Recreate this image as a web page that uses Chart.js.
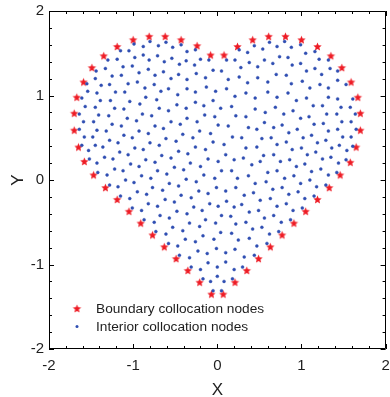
<!DOCTYPE html>
<html>
<head>
<meta charset="utf-8">
<script src="https://cdn.jsdelivr.net/npm/chart.js@4.4.1/dist/chart.umd.min.js"></script>
<style>
  html, body { margin: 0; padding: 0; background: #fff; }
  #wrap { width: 390px; height: 397px; }
</style>
</head>
<body>
<div id="wrap"><canvas id="nodeChart" width="390" height="397"></canvas></div>
<script>
// Tick labels on both axes
const axisTicks = [-2, -1, 0, 1, 2];

// Boundary collocation nodes [x, y]
const boundaryNodes = [
  [-0.07,-1.35],[-0.21,-1.21],[-0.35,-1.07],[-0.49,-0.93],[-0.63,-0.79],[-0.77,-0.65],[-0.91,-0.51],
  [-1.05,-0.37],[-1.19,-0.23],[-1.33,-0.09],[-1.47,0.06],[-1.58,0.22],[-1.65,0.39],[-1.70,0.59],
  [-1.70,0.79],[-1.67,0.98],[-1.59,1.16],[-1.49,1.33],[-1.35,1.47],[-1.19,1.58],[-1.00,1.66],
  [-0.81,1.70],[-0.62,1.70],[-0.43,1.66],[-0.24,1.59],[-0.08,1.48],
  [0.08,1.48],[0.24,1.58],[0.42,1.66],[0.61,1.70],[0.81,1.70],[1.00,1.66],[1.19,1.58],
  [1.35,1.47],[1.48,1.33],[1.59,1.16],[1.67,0.98],[1.70,0.79],[1.70,0.59],[1.65,0.39],
  [1.58,0.21],[1.46,0.06],[1.33,-0.09],[1.19,-0.23],[1.05,-0.37],[0.91,-0.51],[0.77,-0.65],
  [0.63,-0.79],[0.49,-0.93],[0.35,-1.07],[0.21,-1.21],[0.07,-1.35]
];

// Interior collocation nodes [x, y]
const interiorNodes = [
  // upper left lobe
  [-0.99,1.61],[-0.80,1.64],[-0.61,1.63],[-0.88,1.58],[-0.70,1.59],[-1.15,1.53],[-1.05,1.53],
  [-0.88,1.48],[-0.71,1.47],[-1.30,1.42],[-1.19,1.43],[-0.98,1.45],[-0.81,1.42],[-0.63,1.40],
  [-1.44,1.29],[-1.33,1.32],[-1.12,1.34],[-1.01,1.35],[-0.82,1.31],[-0.93,1.27],[-0.64,1.28],
  [-1.45,1.20],[-1.25,1.23],[-1.14,1.24],[-0.74,1.24],[-1.55,1.14],[-1.38,1.12],[-1.28,1.13],
  [-1.06,1.14],[-0.95,1.16],[-0.86,1.09],[-0.75,1.13],[-1.54,1.05],[-1.43,1.03],[-1.21,1.04],
  [-1.10,1.04],[-0.67,1.05],[-0.58,1.08],[-1.61,0.97],[-1.39,0.94],[-1.27,0.94],[-1.04,0.93],
  [-0.85,0.98],[-0.72,0.95],[-0.92,0.90],[-1.57,0.87],[-1.45,0.86],[-1.22,0.85],[-1.11,0.84],
  [-0.69,0.85],[-0.58,0.82],[-1.64,0.78],[-1.41,0.77],[-1.29,0.76],[-0.89,0.78],[-0.78,0.76],
  [-1.07,0.73],
  // upper middle
  [-0.43,1.60],[-0.26,1.54],[-0.53,1.57],[-0.36,1.52],[-0.10,1.42],[-0.20,1.43],[-0.54,1.44],
  [-0.45,1.37],[-0.37,1.41],[0.11,1.42],[0.21,1.42],[-0.27,1.36],[-0.05,1.30],[0.05,1.29],
  [0.28,1.33],[0.38,1.39],[0.48,1.34],[0.56,1.42],[0.54,1.55],[0.36,1.51],[0.26,1.54],
  [0.44,1.59],[0.62,1.63],[-0.55,1.20],[-0.46,1.25],[-0.36,1.19],[-0.25,1.26],[-0.14,1.21],
  [0.13,1.19],[0.26,1.22],[0.36,1.15],[0.48,1.21],[0.60,1.16],[-0.47,1.01],[-0.36,1.08],
  [-0.26,1.04],[-0.13,1.10],[-0.02,1.05],[0.11,1.08],[0.21,0.99],[0.34,1.03],[0.45,0.97],
  [0.60,1.04],[-0.48,0.89],[-0.37,0.85],[-0.26,0.92],[-0.16,0.88],[-0.05,0.94],[0.04,0.85],
  [0.17,0.87],[-0.36,0.73],[-0.15,0.77],[-0.03,0.75],[0.22,0.76],[0.34,0.75],[0.45,0.84],
  [0.57,0.80],
  // upper right lobe
  [0.80,1.64],[0.99,1.60],[0.71,1.58],[0.88,1.57],[1.16,1.52],[1.05,1.50],[0.74,1.46],
  [0.84,1.45],[1.21,1.43],[1.32,1.42],[0.66,1.38],[0.99,1.38],[0.89,1.36],[1.16,1.32],
  [1.06,1.29],[1.34,1.32],[1.43,1.29],[0.70,1.25],[0.82,1.24],[1.24,1.25],[1.01,1.17],
  [0.88,1.14],[1.43,1.18],[1.10,1.09],[1.22,1.13],[1.32,1.09],[1.53,1.13],[0.84,1.03],
  [1.06,0.97],[0.94,0.94],[0.71,0.98],[1.32,0.98],[1.43,0.96],[1.61,0.96],[1.14,0.88],
  [1.25,0.88],[0.69,0.86],[0.90,0.82],[1.47,0.86],[1.58,0.86],[0.79,0.78],[0.99,0.73],
  [1.09,0.75],[1.30,0.78],[1.42,0.78],[1.64,0.78],
  // middle left
  [-1.59,0.69],[-1.47,0.69],[-1.25,0.66],[-1.14,0.64],[-0.96,0.70],[-0.74,0.64],[-0.64,0.61],
  [-1.64,0.60],[-1.43,0.59],[-1.32,0.58],[-1.11,0.53],[-0.93,0.58],[-0.82,0.55],[-1.58,0.51],
  [-1.48,0.51],[-1.28,0.47],[-1.18,0.44],[-1.01,0.50],[-0.80,0.44],[-0.69,0.41],[-0.61,0.49],
  [-1.61,0.41],[-1.45,0.41],[-1.36,0.39],[-1.16,0.33],[-1.06,0.30],[-0.98,0.38],[-0.88,0.36],
  [-1.53,0.35],[-1.34,0.27],[-1.24,0.25],[-1.03,0.19],[-0.93,0.16],[-0.85,0.24],[-0.74,0.21],
  [-0.66,0.29],[-1.52,0.25],[-1.43,0.20],[-1.22,0.13],[-1.12,0.11],[-1.42,0.09],[-1.31,0.06],
  [-0.90,0.05],[-0.79,0.02],[-0.71,0.11],[-0.60,0.07],[-1.28,-0.06],[-1.18,-0.08],[-1.09,0.00],
  [-0.99,-0.03],[-0.77,-0.09],[-0.65,-0.12],[-1.15,-0.19],[-1.04,-0.22],[-0.95,-0.14],[-0.84,-0.17],
  [-0.62,-0.23],[-0.82,-0.28],[-0.71,-0.31],[-1.01,-0.33],
  // centre
  [-0.55,0.69],[-0.44,0.66],[-0.24,0.69],[0.01,0.65],[0.13,0.64],[0.37,0.62],[0.47,0.60],
  [0.56,0.68],[-0.41,0.54],[-0.29,0.50],[-0.21,0.58],[-0.08,0.55],[0.18,0.51],[0.29,0.50],
  [0.53,0.49],[-0.49,0.46],[-0.05,0.45],[0.08,0.42],[0.34,0.38],[0.47,0.39],[-0.46,0.34],
  [-0.35,0.31],[-0.26,0.39],[-0.14,0.36],[0.10,0.30],[0.55,0.29],[-0.55,0.26],[-0.32,0.20],
  [-0.11,0.25],[0.01,0.22],[0.20,0.24],[0.31,0.26],[0.51,0.22],[-0.51,0.15],[-0.40,0.12],
  [-0.20,0.16],[0.05,0.11],[0.17,0.11],[0.41,0.18],[-0.37,0.01],[-0.25,-0.02],[-0.16,0.06],
  [-0.03,0.02],[0.24,0.02],[0.37,0.05],[0.60,0.09],[0.58,-0.02],[-0.57,-0.04],[-0.46,-0.07],
  [-0.22,-0.13],[-0.01,-0.09],[0.10,-0.13],[0.22,-0.09],[0.45,-0.04],[-0.43,-0.18],[-0.31,-0.21],
  [-0.11,-0.16],[0.32,-0.18],[0.43,-0.15],[-0.51,-0.26],[-0.28,-0.32],[-0.09,-0.28],[0.01,-0.31],
  [0.11,-0.25],[0.20,-0.32],[0.29,-0.29],[0.51,-0.24],
  // middle right
  [0.77,0.65],[0.67,0.62],[0.85,0.56],[0.95,0.60],[1.15,0.66],[1.26,0.67],[1.48,0.69],
  [1.59,0.69],[1.65,0.60],[0.64,0.50],[1.02,0.50],[1.12,0.53],[1.32,0.58],[1.43,0.60],
  [1.49,0.51],[1.59,0.51],[0.71,0.42],[0.82,0.45],[1.19,0.44],[1.29,0.47],[1.45,0.41],
  [1.61,0.40],[0.67,0.30],[0.89,0.36],[1.00,0.38],[1.17,0.33],[1.36,0.38],[1.54,0.35],
  [0.75,0.22],[0.86,0.24],[1.07,0.30],[1.25,0.25],[1.35,0.27],[1.44,0.20],[1.53,0.24],
  [0.71,0.11],[0.94,0.16],[1.04,0.19],[1.23,0.13],[1.12,0.10],[1.42,0.09],[0.80,0.02],
  [0.91,0.05],[1.10,0.00],[1.32,0.06],[0.99,-0.04],[0.66,-0.11],[0.77,-0.09],[1.18,-0.08],
  [1.29,-0.06],[0.96,-0.14],[0.85,-0.17],[1.04,-0.22],[1.15,-0.19],[0.63,-0.22],[0.71,-0.31],
  [0.82,-0.28],[1.01,-0.33],
  // lower left
  [-0.90,-0.36],[-0.68,-0.42],[-0.48,-0.37],[-0.36,-0.40],[-0.87,-0.47],[-0.75,-0.50],[-0.57,-0.45],
  [-0.33,-0.51],[-0.73,-0.61],[-0.61,-0.64],[-0.53,-0.56],[-0.41,-0.60],[-0.58,-0.75],[-0.47,-0.78],
  [-0.38,-0.70],[-0.45,-0.89],[-0.33,-0.92],[-0.31,-1.03],
  // lower right and tip
  [-0.18,-0.36],[0.05,-0.42],[0.16,-0.43],[0.38,-0.38],[0.49,-0.36],[0.67,-0.42],[0.90,-0.36],
  [-0.14,-0.47],[-0.02,-0.51],[0.22,-0.52],[0.34,-0.50],[0.56,-0.45],[0.76,-0.50],[0.87,-0.47],
  [-0.21,-0.55],[0.04,-0.62],[0.17,-0.63],[0.42,-0.58],[0.53,-0.56],[0.62,-0.64],[0.73,-0.61],
  [-0.26,-0.73],[-0.17,-0.66],[-0.04,-0.70],[0.25,-0.71],[0.38,-0.69],[0.47,-0.78],[0.59,-0.75],
  [-0.23,-0.84],[-0.01,-0.81],[0.10,-0.86],[0.21,-0.82],[0.32,-0.91],[0.44,-0.89],[-0.12,-0.87],
  [-0.11,-0.98],[0.10,-0.97],[0.20,-1.06],[0.30,-1.03],[-0.20,-1.06],[0.00,-1.03],[-0.17,-1.17],
  [-0.08,-1.20],[0.08,-1.20],[0.18,-1.17],[0.00,-1.14],[-0.05,-1.31],[0.05,-1.31]
];

const FONT = "'Liberation Sans', Arial, sans-serif";
const TEXT = '#1e1e1e';
const STAR_RED = '#ee1c25';
const DOT_BLUE = '#2f4eb2';

// filled five-point star used as the boundary marker
function makeStar(r, color) {
  const size = Math.ceil(r * 2) + 2;
  const c = document.createElement('canvas');
  c.width = size;
  c.height = size;
  const g = c.getContext('2d');
  g.translate(size / 2, size / 2 + r * 0.1);
  g.beginPath();
  for (let i = 0; i < 10; i++) {
    const rad = i % 2 === 0 ? r : r * 0.45;
    const a = -Math.PI / 2 + i * Math.PI / 5;
    g.lineTo(rad * Math.cos(a), rad * Math.sin(a));
  }
  g.closePath();
  g.fillStyle = color;
  g.fill();
  return c;
}
const starMarker = makeStar(4.4, STAR_RED);

// box around the plot with inward major/minor ticks
const frameTicks = {
  id: 'frameTicks',
  afterDatasetsDraw(chart) {
    const { ctx, chartArea: a, scales: { x, y } } = chart;
    const lo = axisTicks[0], hi = axisTicks[axisTicks.length - 1];
    ctx.save();
    ctx.strokeStyle = '#000';
    ctx.lineWidth = 1;
    ctx.beginPath();
    ctx.rect(Math.round(a.left) + 0.5, Math.round(a.top) + 0.5,
             Math.round(a.right - a.left) - 1, Math.round(a.bottom - a.top) - 1);
    for (let k = lo * 5; k <= hi * 5; k++) {
      const v = k / 5;
      const len = k % 5 === 0 ? 5 : 3;
      const px = Math.round(x.getPixelForValue(v)) + 0.5;
      const py = Math.round(y.getPixelForValue(v)) + 0.5;
      ctx.moveTo(px, a.bottom); ctx.lineTo(px, a.bottom - len);
      ctx.moveTo(px, a.top); ctx.lineTo(px, a.top + len);
      ctx.moveTo(a.left, py); ctx.lineTo(a.left + len, py);
      ctx.moveTo(a.right, py); ctx.lineTo(a.right - len, py);
    }
    ctx.stroke();
    ctx.restore();
  }
};

// legend in the lower left corner of the plot
const cornerLegend = {
  id: 'cornerLegend',
  afterDatasetsDraw(chart) {
    const { ctx, chartArea: a } = chart;
    const mx = a.left + 28, tx = a.left + 47;
    const rows = [a.bottom - 40.5, a.bottom - 22.5];
    ctx.save();
    ctx.font = '13.7px ' + FONT;
    ctx.textBaseline = 'middle';
    chart.data.datasets.slice().reverse().forEach((ds, i) => {
      const ry = rows[i];
      if (ds.pointStyle === 'circle') {
        ctx.fillStyle = ds.backgroundColor;
        ctx.beginPath();
        ctx.arc(mx, ry, ds.pointRadius, 0, Math.PI * 2);
        ctx.fill();
      } else {
        Chart.helpers.drawPoint(ctx, { pointStyle: ds.pointStyle, radius: ds.pointRadius, borderWidth: 0 }, mx, ry);
      }
      ctx.fillStyle = TEXT;
      ctx.fillText(ds.label, tx, ry + 0.5);
    });
    ctx.restore();
  }
};

const toPoints = nodes => nodes.map(([x, y]) => ({ x, y }));

new Chart(document.getElementById('nodeChart'), {
  type: 'scatter',
  data: {
    datasets: [
      {
        label: 'Interior collocation nodes',
        data: toPoints(interiorNodes),
        pointStyle: 'circle',
        pointRadius: 1.5,
        pointHoverRadius: 1.5,
        borderWidth: 0.4,
        borderColor: DOT_BLUE,
        backgroundColor: DOT_BLUE
      },
      {
        label: 'Boundary collocation nodes',
        data: toPoints(boundaryNodes),
        pointStyle: starMarker,
        pointRadius: 4.4,
        pointHoverRadius: 4.4,
        borderWidth: 0,
        backgroundColor: STAR_RED
      }
    ]
  },
  options: {
    responsive: false,
    animation: false,
    layout: { padding: { top: 11, right: 1, left: 0, bottom: 0 } },
    plugins: {
      legend: { display: false },
      tooltip: { enabled: false }
    },
    scales: {
      x: {
        type: 'linear',
        min: axisTicks[0],
        max: axisTicks[axisTicks.length - 1],
        afterBuildTicks: s => { s.ticks = axisTicks.map(v => ({ value: v })); },
        afterFit: s => { s.height = 48; s.paddingLeft = 0; s.paddingRight = 0; },
        grid: { display: false, drawTicks: false },
        border: { display: false },
        ticks: { padding: 8, color: TEXT, maxRotation: 0, autoSkip: false, font: { family: FONT, size: 15 } },
        title: { display: true, text: 'X', color: TEXT, padding: { top: 0, bottom: -2 }, font: { family: FONT, size: 17, lineHeight: 1 } }
      },
      y: {
        type: 'linear',
        min: axisTicks[0],
        max: axisTicks[axisTicks.length - 1],
        afterBuildTicks: s => { s.ticks = axisTicks.map(v => ({ value: v })); },
        afterFit: s => { s.width = 49; s.paddingTop = 0; s.paddingBottom = 0; },
        grid: { display: false, drawTicks: false },
        border: { display: false },
        ticks: { padding: 5, color: TEXT, autoSkip: false, font: { family: FONT, size: 15 } },
        title: { display: true, text: 'Y', color: TEXT, padding: { top: 10, bottom: 0 }, font: { family: FONT, size: 17, lineHeight: 1 } }
      }
    }
  },
  plugins: [frameTicks, cornerLegend]
});
</script>
</body>
</html>
